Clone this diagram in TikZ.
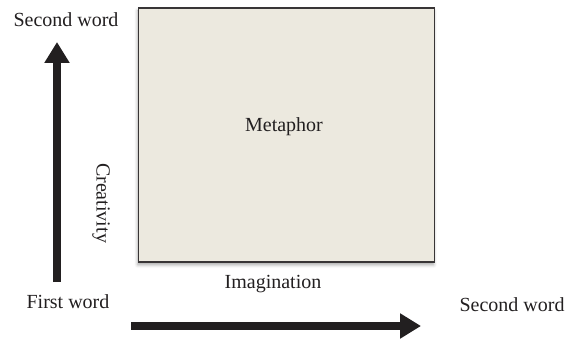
\documentclass[tikz,border=0pt]{standalone}
\usepackage{fontspec}
\setmainfont{Liberation Serif}
\usetikzlibrary{arrows.meta,shadows.blur}

\definecolor{boxfill}{RGB}{236,233,223}
\definecolor{ink}{RGB}{34,31,32}

\tikzset{
  word/.style={font=\fontsize{10}{12}\selectfont, text=ink, inner sep=1pt},
  frame/.style={draw=ink!90, line width=0.75pt, fill=boxfill,
    minimum width=148pt, minimum height=127pt, inner sep=0pt,
    blur shadow={shadow xshift=-0.4pt, shadow yshift=-1.4pt,
      shadow blur radius=1.6pt, shadow opacity=35}},
  fatarrow/.style={line width=4pt, draw=ink,
    -{Triangle[length=10.5pt,width=12pt]}}
}

\begin{document}
\begin{tikzpicture}[x=0.5pt,y=0.5pt]
  \useasboundingbox (0,0) rectangle (576,342);

  % the square and its label
  \node[frame] (box) at (286.5,207) {};
  \node[word] (metaphor) at (284,215) {Metaphor};

  % words at the ends of the two axes
  \node[word] (firstword) at (68,40) {First word};
  \node[word] (topword) at (66,322) {Second word};
  \node[word] (rightword) at (512,37) {Second word};

  % axis captions
  \node[word] (imagination) at (273,58) {Imagination};
  \node[word, rotate=-90] (creativity) at (101,139) {Creativity};

  % the two thick arrows
  \coordinate (vbottom) at (57,60);
  \coordinate (vtop) at (57,300);
  \coordinate (hleft) at (131,16);
  \coordinate (hright) at (421,16);
  \draw[fatarrow] (vbottom) -- (vtop);
  \draw[fatarrow] (hleft) -- (hright);
\end{tikzpicture}
\end{document}
